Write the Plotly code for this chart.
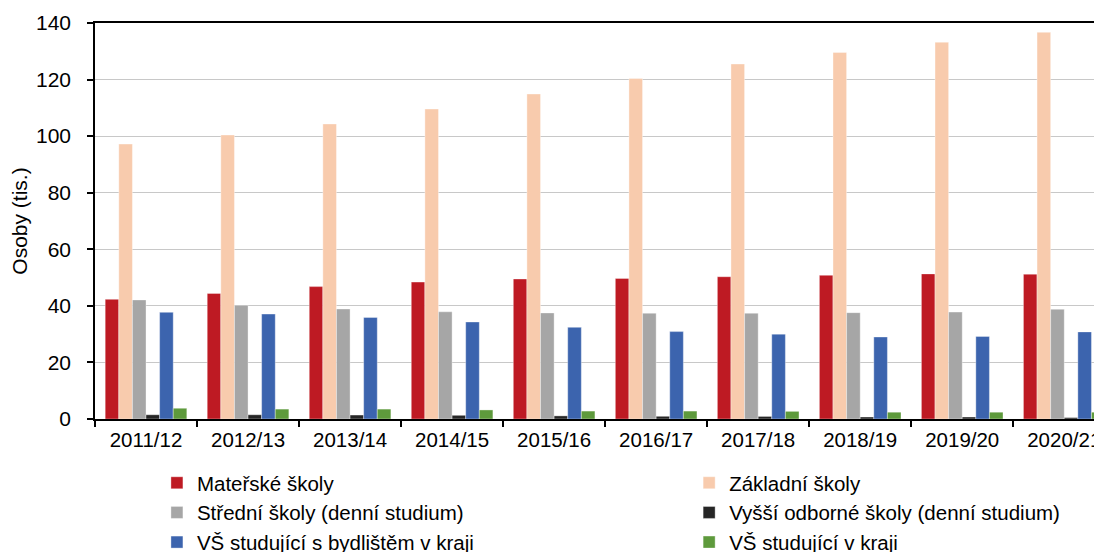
import plotly.graph_objects as go

categories = ["2011/12", "2012/13", "2013/14", "2014/15", "2015/16",
              "2016/17", "2017/18", "2018/19", "2019/20", "2020/21"]
materske = [42.3, 44.4, 46.8, 48.4, 49.5, 49.7, 50.3, 50.8, 51.3, 51.2]
zakladni = [97.2, 100.4, 104.3, 109.6, 114.9, 120.4, 125.5, 129.6, 133.2, 136.7]
stredni = [42.1, 40.2, 38.9, 37.9, 37.5, 37.4, 37.4, 37.6, 37.8, 38.8]
vyssi = [1.5, 1.5, 1.4, 1.3, 1.1, 0.95, 0.9, 0.7, 0.7, 0.5]
vs_bydliste = [37.7, 37.1, 35.9, 34.3, 32.4, 30.9, 30.0, 29.0, 29.2, 30.8]
vs_kraj = [3.8, 3.5, 3.5, 3.2, 2.8, 2.8, 2.7, 2.4, 2.4, 2.4]

series = [
    ("Mateřské školy", materske, "#BE1A23", "legend"),
    ("Základní školy", zakladni, "#F8CBAD", "legend2"),
    ("Střední školy (denní studium)", stredni, "#A6A6A6", "legend"),
    ("Vyšší odborné školy (denní studium)", vyssi, "#262626", "legend2"),
    ("VŠ studující s bydlištěm v kraji", vs_bydliste, "#3C64AE", "legend"),
    ("VŠ studující v kraji", vs_kraj, "#5E9A3C", "legend2"),
]

FONT = "Liberation Sans, Arial, sans-serif"

fig = go.Figure()
for i, (name, vals, color, leg) in enumerate(series):
    fig.add_trace(go.Bar(
        name=name, x=categories, y=vals, legend=leg,
        marker=dict(color=color, line=dict(color="rgba(255,255,255,0.6)", width=0.6)),
    ))

legend_common = dict(
    orientation="v", xanchor="left", y=-0.111, yanchor="top",
    font=dict(family=FONT, size=20.5, color="black"),
    traceorder="normal", tracegroupgap=0, itemclick=False, bgcolor="rgba(0,0,0,0)",
)

fig.update_layout(
    width=1102, height=552,
    margin=dict(l=87, r=8, t=15, b=141, autoexpand=False),
    paper_bgcolor="white", plot_bgcolor="white",
    barmode="group", bargap=0.2, bargroupgap=0,
    font=dict(family=FONT, size=21, color="black"),
    showlegend=True,
    legend=dict(x=0.0615, **legend_common),
    legend2=dict(x=0.590, **legend_common),
    xaxis=dict(
        type="category", range=[-0.5, 9.37], automargin=False,
        showline=True, linecolor="black", linewidth=1.5, mirror=True,
        ticks="outside", tickson="boundaries", ticklen=6, tickcolor="black", tickwidth=1.5,
        tickfont=dict(family=FONT, size=20.5, color="black"), ticklabelstandoff=2,
        showgrid=False,
    ),
    yaxis=dict(
        range=[0, 140], dtick=20, automargin=False,
        showline=True, linecolor="black", linewidth=1.5,
        ticks="outside", ticklen=6, tickcolor="black", tickwidth=1.5,
        tickfont=dict(family=FONT, size=21, color="black"), ticklabelstandoff=12,
        showgrid=True, gridcolor="#C8C8C8", gridwidth=1.2,
        zeroline=False,
        title=dict(text="Osoby (tis.)", font=dict(family=FONT, size=21, color="black"), standoff=5),
    ),
)

fig.write_html("out.html")
